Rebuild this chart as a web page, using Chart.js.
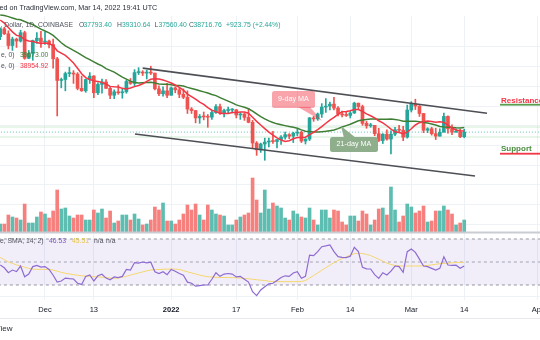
<!DOCTYPE html>
<html>
<head>
<meta charset="utf-8">
<script src="https://cdn.jsdelivr.net/npm/chart.js@4.4.1/dist/chart.umd.min.js"></script>
<style>
  html, body { margin: 0; padding: 0; background: #fff; }
  #wrap { width: 540px; height: 340px; overflow: hidden; }
</style>
</head>
<body>
<div id="wrap"><canvas id="chart" width="540" height="340"></canvas></div>
<script>
// BTC/USD 1D Coinbase, first candle 2021-11-20 (day 0) to 2022-03-14
const startDate = '2021-11-20';

const opens = [58100,59700,58700,56300,57600,57200,58900,53700,54700,57300,57800,57000,57200,56500,53600,49200,49400,50600,50650,50500,
  47600,47100,49400,50100,46700,48400,48900,47600,46200,46900,46700,46900,49000,48600,50800,50900,50700,50800,50700,47500,
  46500,47100,46200,47700,47300,46400,45800,43400,43100,41600,41900,41800,41750,42700,43900,42600,43100,43200,43250,42200,
  42400,41700,40700,36500,35100,36300,36700,36900,36800,37200,37700,38200,37900,38500,38700,36900,37300,41600,41400,42400,
  43800,44000,44400,43600,42400,42200,42100,42600,44600,43900,40500,40000,40100,38400,37000,38300,37300,38300,39200,39100,
  37700,43200,44400,44000,42500,39100,39400,38400,37900,38700,41900,39400,38700,38800,37793];
const highs = [59900,60000,59300,58000,57800,59400,59200,55300,57400,58900,59200,59000,57400,57600,53900,49700,50900,51900,51200,50800,
  50100,49500,50800,50200,48700,49500,49400,48000,47300,48300,47500,49300,49600,51400,51800,51200,51300,52100,50700,48100,
  47900,48600,47900,47900,47600,47500,47100,43700,43100,42300,42800,42300,43000,44300,44400,43400,43800,43500,43300,42700,
  42600,43500,41100,36800,36500,37500,37500,38900,37200,38000,38700,38400,38700,39300,38900,37400,41700,41900,42600,44500,
  45500,44800,45800,43900,43000,42800,42900,44800,44600,44200,40900,40500,40100,39500,38400,39200,39000,39700,40100,39900,
  44200,44900,45400,44100,42500,39600,39700,39500,39400,42600,42000,40200,39400,39300,39311];
const lows = [57500,58500,55600,55300,55900,57000,53500,53600,53300,56700,55900,56500,55800,51700,42000,47700,47100,50000,48600,47300,
  47000,46800,48600,45700,46300,46600,47600,45500,45500,46400,45600,46600,48400,48000,50400,50200,49500,50400,47300,46100,
  46000,45700,46200,46700,45700,45500,42500,42500,40600,40500,41200,39700,41300,42500,42300,41800,42600,42600,41600,41300,
  41100,40600,35500,34000,34600,33000,35700,36400,35500,36200,37300,37400,36600,38000,36600,36300,37000,40900,41100,41700,
  42700,43200,43200,42000,41800,41900,41600,42500,43300,40100,39500,39700,38000,36800,36400,37100,34300,38000,38600,37000,
  37500,42800,43300,41900,38600,38600,38100,37200,37900,38700,38500,38200,38700,37600,37560];
const closes = [59700,58700,56300,57600,57200,58900,53700,54700,57300,57800,57000,57200,56500,53600,49200,49400,50600,50650,50500,47600,
  47100,49400,50100,46700,48400,48900,47600,46200,46900,46700,46900,49000,48600,50800,50900,50700,50800,50700,47500,46500,
  47100,46200,47700,47300,46400,45800,43400,43100,41600,41900,41800,41750,42700,43900,42600,43100,43200,43250,42200,42400,
  41700,40700,36500,35100,36300,36700,36900,36800,37200,37700,38200,37900,38500,38700,36900,37300,41600,41400,42400,43800,
  44000,44400,43600,42400,42200,42100,42600,44600,43900,40500,40000,40100,38400,37000,38300,37300,38300,39200,39100,37700,
  43200,44400,44000,42500,39100,39400,38400,37900,38700,41900,39400,38700,38800,37794,38717];
// closes before the first visible candle, only needed for the moving averages
const priorCloses = [61300,61000,63200,62900,61400,61000,61500,63300,67500,66900,64900,64800,64200,64400,65500,63600,60300,60400,56900,58100];

// volume, thousand BTC
const volumes = [8,8,17,15,14,12,28,9,9,15,20,18,14,21,42,23,24,16,14,17,
  17,12,12,22,19,23,14,21,9,11,17,17,12,18,13,7,8,12,25,22,
  29,11,11,8,12,18,27,22,28,17,12,27,22,18,17,16,7,7,12,15,
  17,19,54,32,19,42,23,29,26,24,14,12,21,18,15,14,24,12,7,22,
  22,14,22,21,10,7,16,16,11,21,18,7,12,23,24,17,45,22,10,16,
  28,25,19,21,26,10,11,21,21,26,22,18,7,9,12];

const rsi = [47.4,45,40.7,43,41.7,46.5,37.2,39.5,46,47,45.5,46,43.5,38.5,32.5,33.5,36,35.5,35.2,31.5,
  30.5,37.5,38.7,33.5,38,39.3,36,34.5,37,36.5,37.5,43.5,43,49.5,49,50,49.3,49.8,41.5,40,
  41.5,39,43.5,42,40,38.5,32.5,31.5,29,29.5,30,30,35,40.7,37.5,39.5,40,39.5,37,37.5,
  35,32.5,24.2,20.7,25.7,28.5,31,31.5,34,36.5,38,37.5,40.5,41.6,35.8,37.5,56,55.5,59,63.3,
  64,64.8,59,54.6,54,53.8,55,62.8,59,45.4,44,43.9,39,35.8,40.7,38.7,42,46.5,46,41,
  59,61.3,58.4,52.5,46.5,46,44.5,43,44.5,54.6,47.4,47,47.2,44.5,46.5];
const rsiMa = [54,52,50,48.8,47.5,46.5,45.5,44.5,43.8,43.6,43.6,43.6,43.5,43,42,41,40.2,39.6,39,38.5,
  38,37.7,37.4,37.2,37.1,36.8,36.4,36,35.8,36,36.8,37.6,38.6,39.6,40.5,41.4,42.3,43,43.3,43.5,
  43.7,43.8,43.9,43.8,43.5,42.5,41.5,40.5,39.6,38.6,37.8,37.2,36.9,36.7,36.6,36.5,36.5,36.4,36.3,36,
  35.7,35.4,35,34.6,34.2,33.9,33.3,33,32.9,32.9,32.9,32.9,32.9,32.9,33,34,36,38.2,40.5,42.8,
  45,47.2,49.5,51.3,53,54.5,56,57.3,57.6,57.4,56.6,55.6,54,52.4,50.8,49,47.8,47,46.6,46.5,
  46.5,46.5,46.5,46.5,46.7,47,47.5,48,48.5,48.8,49,49.3,49.5,49.7,49.7];

// drawn channel (day, price)
const upperDays = [35.0, 119.6];
const upperPrices = [51700, 42540];
const lowerDays = [33.1, 116.65];
const lowerPrices = [38330, 29810];
const levelPrices = [39760, 37730];
const lastClose = 38717;

const tickDates = ['2021-12-01','2021-12-13','2022-01-01','2022-01-17','2022-02-01','2022-02-14','2022-03-01','2022-03-14','2022-04-01'];
const tickLabels = ['Dec','13','2022','17','Feb','14','Mar','14','Apr'];
const priceGrid = [20000,24000,28000,32000,36000,40000,44000,48000,52000,56000];

const dayOf = d => Math.round((Date.parse(d) - Date.parse(startDate)) / 864e5);
const tickDays = tickDates.map(dayOf);

function sma(values, n, from) {
  const out = [];
  for (let i = from; i < values.length; i++) {
    let s = 0;
    for (let k = i - n + 1; k <= i; k++) s += values[k];
    out.push(s / n);
  }
  return out;
}
const allCloses = priorCloses.concat(closes);
const ma9 = sma(allCloses, 9, priorCloses.length);
const ma21 = sma(allCloses, 21, priorCloses.length);

const UP = '#26a69a', DOWN = '#ef5350';
const isUp = closes.map((c, i) => c >= opens[i]);
const pts = arr => arr.map((v, i) => ({ x: i, y: v }));
const flat = v => [{ x: -5, y: v }, { x: 140, y: v }];

Chart.defaults.font.family = "'Liberation Sans', Arial, sans-serif";

const datasets = [
  { type: 'bar', yAxisID: 'yVol', order: 50, grouped: false, barThickness: 3,
    data: pts(volumes), backgroundColor: isUp.map(u => u ? '#5dbdb1' : '#f6807d') },
  { type: 'line', yAxisID: 'yRsi', order: 40, data: flat(70), borderColor: '#9598a1', borderWidth: 1,
    borderDash: [3, 3], pointRadius: 0, fill: '+1', backgroundColor: 'rgba(126,87,194,0.10)' },
  { type: 'line', yAxisID: 'yRsi', order: 40, data: flat(30), borderColor: '#9598a1', borderWidth: 1,
    borderDash: [3, 3], pointRadius: 0, fill: false },
  { type: 'line', yAxisID: 'yRsi', order: 40, data: flat(50), borderColor: '#a9abb2', borderWidth: 1,
    borderDash: [3, 3], pointRadius: 0, fill: false },
  { type: 'line', yAxisID: 'y', order: 35, data: flat(levelPrices[0]), borderColor: 'rgba(76,175,80,0.25)',
    borderWidth: 1.2, pointRadius: 0 },
  { type: 'line', yAxisID: 'y', order: 35, data: flat(levelPrices[1]), borderColor: 'rgba(76,175,80,0.25)',
    borderWidth: 1.2, pointRadius: 0 },
  { type: 'line', yAxisID: 'y', order: 35, data: flat(lastClose), borderColor: 'rgba(38,166,154,0.7)',
    borderWidth: 1, borderDash: [1, 2], pointRadius: 0 },
  { type: 'bar', yAxisID: 'y', order: 30, grouped: false, barThickness: 1,
    data: highs.map((h, i) => ({ x: i, y: [lows[i], h] })), backgroundColor: isUp.map(u => u ? UP : DOWN) },
  { type: 'bar', yAxisID: 'y', order: 29, grouped: false, barThickness: 3, minBarLength: 1,
    data: opens.map((o, i) => ({ x: i, y: [o, closes[i]] })), backgroundColor: isUp.map(u => u ? UP : DOWN) },
  { type: 'line', yAxisID: 'y', order: 21, data: pts(ma21), borderColor: '#3f7f35', borderWidth: 1.5,
    pointRadius: 0, clip: { left: 0, right: 0, top: 20, bottom: 0 } },
  { type: 'line', yAxisID: 'y', order: 20, data: pts(ma9), borderColor: '#f23645', borderWidth: 1.5,
    pointRadius: 0, clip: { left: 0, right: 0, top: 20, bottom: 0 } },
  { type: 'line', yAxisID: 'y', order: 10, data: upperDays.map((d, i) => ({ x: d, y: upperPrices[i] })),
    borderColor: '#4d4f55', borderWidth: 1.6, pointRadius: 0 },
  { type: 'line', yAxisID: 'y', order: 10, data: lowerDays.map((d, i) => ({ x: d, y: lowerPrices[i] })),
    borderColor: '#4d4f55', borderWidth: 1.6, pointRadius: 0 },
  { type: 'line', yAxisID: 'yRsi', order: 6, data: pts(rsiMa), borderColor: '#f5d66e', borderWidth: 1,
    pointRadius: 0 },
  { type: 'line', yAxisID: 'yRsi', order: 5, data: pts(rsi), borderColor: '#8e6bd1', borderWidth: 1.2,
    pointRadius: 0 }
];

function noWidth(s) { s.width = 0; s.paddingTop = 0; s.paddingBottom = 0; s.paddingLeft = 0; s.paddingRight = 0; }

function txt(ctx, s, x, y, color, size, bold, align) {
  ctx.font = (bold ? 'bold ' : '') + size + "px 'Liberation Sans', Arial, sans-serif";
  ctx.fillStyle = color;
  ctx.textAlign = align || 'left';
  ctx.textBaseline = 'middle';
  ctx.fillText(s, x, y);
}

function box(ctx, x, y, w, h, r, color) {
  ctx.fillStyle = color;
  ctx.beginPath();
  ctx.moveTo(x + r, y);
  ctx.lineTo(x + w - r, y); ctx.quadraticCurveTo(x + w, y, x + w, y + r);
  ctx.lineTo(x + w, y + h - r); ctx.quadraticCurveTo(x + w, y + h, x + w - r, y + h);
  ctx.lineTo(x + r, y + h); ctx.quadraticCurveTo(x, y + h, x, y + h - r);
  ctx.lineTo(x, y + r); ctx.quadraticCurveTo(x, y, x + r, y);
  ctx.fill();
}

function tri(ctx, a, b, c, color) {
  ctx.fillStyle = color;
  ctx.beginPath();
  ctx.moveTo(a[0], a[1]); ctx.lineTo(b[0], b[1]); ctx.lineTo(c[0], c[1]);
  ctx.fill();
}

const overlay = {
  id: 'overlay',
  afterDraw(chart) {
    const ctx = chart.ctx;
    ctx.save();
    // pane separator and footer line
    ctx.fillStyle = '#c9ccd3';
    ctx.fillRect(0, 231.5, 540, 2);
    ctx.fillStyle = '#e6e8ec';
    ctx.fillRect(0, 318, 540, 1);

    const grey = '#50535e', teal = '#26a69a';
    txt(ctx, 'ed on TradingView.com, Mar 14, 2022 19:41 UTC', -0.5, 8, '#2a2e39', 7.2);
    txt(ctx, ', Dollar, 1D, COINBASE', 0.5, 25, grey, 6.8);
    txt(ctx, 'O', 79, 25, grey, 6.8); txt(ctx, '37793.40', 83.5, 25, teal, 6.8);
    txt(ctx, 'H', 117, 25, grey, 6.8); txt(ctx, '39310.64', 122, 25, teal, 6.8);
    txt(ctx, 'L', 154.5, 25, grey, 6.8); txt(ctx, '37560.40', 158.5, 25, teal, 6.8);
    txt(ctx, 'C', 189, 25, grey, 6.8); txt(ctx, '38716.76', 193.5, 25, teal, 6.8);
    txt(ctx, '+923.75 (+2.44%)', 226, 25, teal, 6.8);

    txt(ctx, 'e, 0)', 1, 55, grey, 6.8); txt(ctx, '39673.00', 20, 55, '#3f7f35', 6.8);
    txt(ctx, 'e, 0)', 1, 66, grey, 6.8); txt(ctx, '38954.92', 20, 66, '#f23645', 6.8);

    txt(ctx, 'e, SMA, 14; 2)', 0, 241, grey, 6.8);
    txt(ctx, '46.53', 49, 241, '#7e57c2', 6.8);
    txt(ctx, '45.51', 72, 241, '#e8c64a', 6.8);
    txt(ctx, 'n/a', 94, 241, grey, 6.8);
    txt(ctx, 'n/a', 106, 241, grey, 6.8);

    txt(ctx, 'View', 12.5, 329, '#2a2e39', 8, false, 'right');

    // callouts
    tri(ctx, [298, 107], [310, 107], [322, 121], 'rgba(242,54,69,0.45)');
    box(ctx, 272, 91, 43, 17, 2.5, 'rgba(242,54,69,0.45)');
    txt(ctx, '9-day MA', 293.5, 99.5, '#ffffff', 7.2, false, 'center');

    tri(ctx, [341, 126], [344, 138], [356, 138], '#8fae8b');
    box(ctx, 330, 137, 48, 15, 2.5, '#8fae8b');
    txt(ctx, '21-day MA', 354, 144.5, '#ffffff', 7.2, false, 'center');

    txt(ctx, 'Resistance', 501, 100.5, '#f23645', 8, true);
    ctx.fillStyle = '#5a9e4e'; ctx.fillRect(500, 103.8, 40, 1.8);
    txt(ctx, 'Support', 501, 148.5, '#4a8d3e', 8, true);
    ctx.fillStyle = '#f23645'; ctx.fillRect(500, 152.8, 40, 1.8);
    ctx.restore();
  }
};

new Chart(document.getElementById('chart'), {
  type: 'bar',
  data: { datasets: datasets },
  options: {
    responsive: false,
    animation: false,
    devicePixelRatio: 1,
    layout: { padding: { top: 16, left: 0, right: 0, bottom: 0 } },
    plugins: { legend: { display: false }, tooltip: { enabled: false } },
    scales: {
      x: {
        type: 'linear', min: -0.056, max: 132.62, position: 'bottom', offset: false,
        afterBuildTicks(s) { s.ticks = tickDays.map(v => ({ value: v })); },
        afterFit(s) { s.height = 40; s.paddingLeft = 0; s.paddingRight = 0; },
        grid: { color: '#eef1f6', drawTicks: false, offset: false },
        border: { display: false },
        ticks: {
          autoSkip: false, maxRotation: 0, padding: 5, color: '#131722',
          callback: (v, i) => tickLabels[i],
          font: c => ({ size: 7.5, weight: (c.tick && c.tick.value === dayOf('2022-01-01')) ? 'bold' : 'normal' })
        }
      },
      y: {
        type: 'linear', position: 'right', min: 4637, max: 62289,
        afterBuildTicks(s) { s.ticks = priceGrid.map(v => ({ value: v })); },
        afterFit: noWidth,
        grid: { color: '#eef1f6', drawTicks: false },
        border: { display: false },
        ticks: { display: false }
      },
      yVol: {
        type: 'linear', position: 'right', min: -68, max: 216,
        display: false
      },
      yRsi: {
        type: 'linear', position: 'right', min: 16.96, max: 263.9,
        afterBuildTicks(s) { s.ticks = [{ value: 20 }]; },
        afterFit: noWidth,
        grid: { color: '#eef1f6', drawTicks: false },
        border: { display: false },
        ticks: { display: false }
      }
    }
  },
  plugins: [overlay]
});
</script>
</body>
</html>
